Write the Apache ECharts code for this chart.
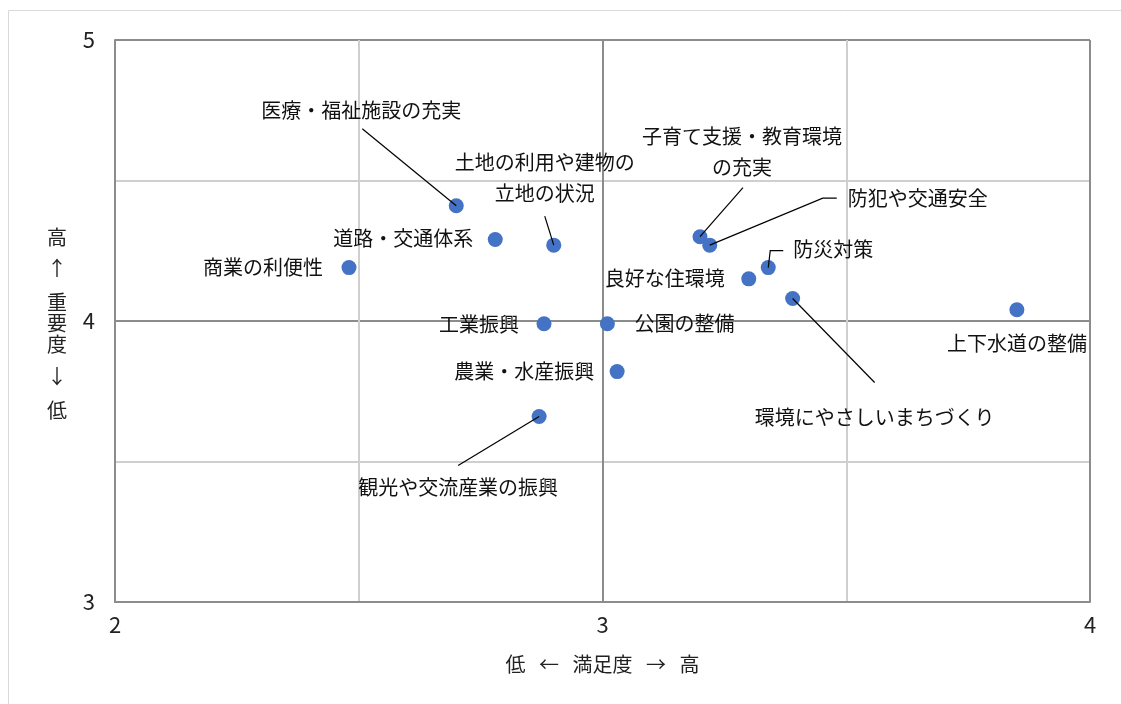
<!DOCTYPE html>
<html lang="ja">
<head>
<meta charset="UTF-8">
<title>満足度と重要度</title>
<style>
  html, body { margin: 0; padding: 0; background: #fff; }
  #box { width: 1121px; height: 704px; }
</style>
</head>
<body>
<div id="box"></div>
<script src="https://cdn.jsdelivr.net/npm/echarts@6/dist/echarts.min.js"></script>
<script>
// 施策ごとの 満足度(x) と 重要度(y)
var items = [
  '医療・福祉施設の充実',
  '土地の利用や建物の\n立地の状況',
  '子育て支援・教育環境\nの充実',
  '防犯や交通安全',
  '防災対策',
  '良好な住環境',
  '道路・交通体系',
  '商業の利便性',
  '工業振興',
  '公園の整備',
  '農業・水産振興',
  '観光や交流産業の振興',
  '環境にやさしいまちづくり',
  '上下水道の整備'
];
var satisfaction = [2.70, 2.90, 3.20, 3.22, 3.34, 3.30, 2.78, 2.48, 2.88, 3.01, 3.03, 2.87, 3.39, 3.85];
var importance   = [4.41, 4.27, 4.30, 4.27, 4.19, 4.15, 4.29, 4.19, 3.99, 3.99, 3.82, 3.66, 4.08, 4.04];
var xRange = [2, 4];
var yRange = [3, 5];
var xName = '低   ←   満足度   →   高';
var yNameLines = ['高', '↑', '重', '要', '度', '↓', '低'];

// label placement: px offset of label centre from its point
var labelOffsets = [
  [-95, -95], [-9, -67], [42, -85], [208, -47], [65, -18], [-84, 0], [-92, -1],
  [-86, 0], [-65, 1], [77, 0], [-93, 0], [-81, 71], [82, 119], [0, 34]
];
// leader lines: px offsets from the point (polyline)
var leaders = {
  0: [[-94, -77]],
  1: [[-9, -29]],
  2: [[43, -49]],
  3: [[113, -47], [127, -47]],
  4: [[2, -17], [15, -17]],
  11: [[-81, 49]],
  12: [[82, 84]]
};

var FONT = "'Noto Sans CJK JP', 'Noto Sans', sans-serif";
var box = echarts.init(document.getElementById('box'));

var data = satisfaction.map(function (x, i) {
  return { name: items[i], value: [x, importance[i]] };
});

// y name as stacked characters with uneven spacing
var yHeights = [15, 47, 21, 21, 21, 43, 25];
var yRich = {};
var yName = yNameLines.map(function (c, i) {
  yRich['l' + i] = { lineHeight: yHeights[i], fontSize: 20, fontFamily: FONT, color: '#222' };
  return '{l' + i + '|' + c + '}';
}).join('\n');

var option = {
  backgroundColor: '#fff',
  animation: false,
  grid: { left: 115, right: 31, top: 40, bottom: 102 },
  xAxis: {
    type: 'value', min: xRange[0], max: xRange[1], interval: 1,
    axisLine: { show: true, lineStyle: { color: '#8c8c8c', width: 2 } },
    axisTick: { show: false },
    axisLabel: { color: '#222', fontSize: 22, margin: 12, fontFamily: FONT },
    splitLine: { show: true, lineStyle: { color: '#8c8c8c', width: 2 } },
    minorTick: { show: false, splitNumber: 2 },
    minorSplitLine: { show: true, lineStyle: { color: '#cfcfcf', width: 2 } },
    name: xName, nameLocation: 'middle', nameGap: 52,
    nameTextStyle: { color: '#222', fontSize: 20, fontFamily: FONT, verticalAlign: 'top' }
  },
  yAxis: {
    type: 'value', min: yRange[0], max: yRange[1], interval: 1,
    axisLine: { show: true, lineStyle: { color: '#8c8c8c', width: 2 } },
    axisTick: { show: false },
    axisLabel: { color: '#222', fontSize: 22, margin: 20, fontFamily: FONT },
    splitLine: { show: true, lineStyle: { color: '#8c8c8c', width: 2 } },
    minorTick: { show: false, splitNumber: 2 },
    minorSplitLine: { show: true, lineStyle: { color: '#cfcfcf', width: 2 } },
    name: yName, nameLocation: 'middle', nameRotate: 0, nameGap: 48,
    nameTextStyle: { rich: yRich, padding: [10, 0, 0, 0] }
  },
  series: [{
    type: 'scatter',
    symbolSize: 15,
    itemStyle: { color: '#4472C4', opacity: 1 },
    data: data,
    label: {
      show: true,
      position: 'inside',
      formatter: '{b}',
      color: '#111',
      fontSize: 20,
      lineHeight: 31,
      fontFamily: FONT
    },
    labelLayout: function (p) {
      var o = labelOffsets[p.dataIndex];
      return { dx: o[0], dy: o[1] };
    }
  }]
};
box.setOption(option);

// outer frame + leader lines from each point to its moved label
var graphics = [{
  id: 'frame',
  type: 'rect',
  silent: true,
  shape: { x: 8.5, y: 10.5, width: 1200, height: 800 },
  style: { fill: 'none', stroke: '#d9d9d9', lineWidth: 1 }
}];
Object.keys(leaders).forEach(function (k) {
  var i = +k;
  var p = box.convertToPixel({ seriesIndex: 0 }, [satisfaction[i], importance[i]]);
  var pts = [p].concat(leaders[k].map(function (o) { return [p[0] + o[0], p[1] + o[1]]; }));
  graphics.push({
    id: 'leader' + k,
    type: 'polyline',
    z: 10,
    silent: true,
    shape: { points: pts },
    style: { stroke: '#000', lineWidth: 1.2, fill: null }
  });
});
box.setOption({ graphic: graphics });
</script>
</body>
</html>
